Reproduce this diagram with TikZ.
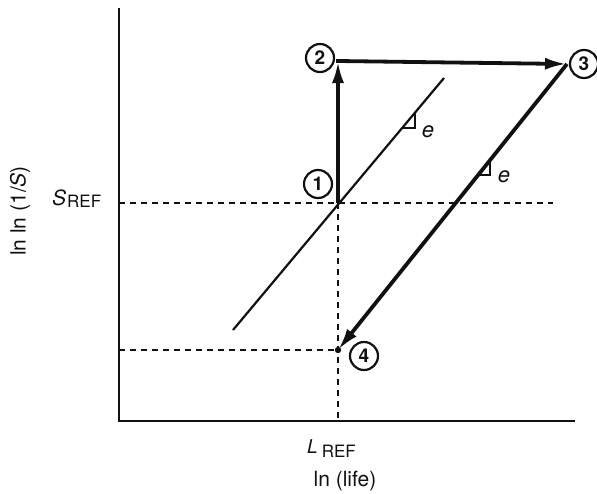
\documentclass[tikz,border=0pt]{standalone}
\usepackage{fontspec}
\setmainfont{TeX Gyre Heros}
\usepackage{tikz}
\usetikzlibrary{arrows.meta}
\definecolor{ink}{HTML}{111111}

\begin{document}
\begin{tikzpicture}[
  x=1pt, y=-1pt,
  font=\fontsize{21}{25}\selectfont,
  axis/.style={line width=2.6pt, ink},
  guide/.style={ink, line width=1.8pt, dash pattern=on 6pt off 5pt},
  trend/.style={ink, line width=2.2pt},
  move/.style={ink, line width=3.8pt, -{Latex[length=22pt, width=12pt]}},
  num/.style={draw=ink, circle, line width=2.2pt, minimum size=28pt, inner sep=0pt, text=ink, font=\fontsize{19}{19}\selectfont\bfseries},
  slopemark/.style={ink, line width=1.6pt},
  lbl/.style={text=ink, inner sep=0pt}
]
  \useasboundingbox (0,0) rectangle (597,493);
  % axes and reference values
  \coordinate (top) at (119,8);
  \coordinate (o) at (119,421);
  \coordinate (xend) at (575,421);
  \coordinate (sref) at (119,203);
  \coordinate (send) at (553,203);
  \coordinate (lref) at (338,421);
  \coordinate (s4) at (119,350);
  % the four states
  \coordinate (p1) at (338,203);
  \coordinate (p2) at (338,61);
  \coordinate (p3) at (567,64);
  \coordinate (p4) at (338,350);
  \coordinate (t0) at (233,330);
  \coordinate (t1) at (444,78);

  \draw[guide] (sref) -- (send);
  \draw[guide] (p1) -- (lref);
  \draw[guide] (s4) -- (p4);
  \draw[axis] (top) -- (o) -- (xend);

  \draw[trend] (t0) -- (t1);
  \draw[slopemark] (415,113) |- (402,128);

  \draw[move] (p1) -- (p2);
  \draw[move, line cap=rect] (p2) -- (p3);
  \draw[move] (p3) -- (p4);
  \draw[slopemark] (490,160) |- (478,175);
  \fill[ink] (p4) circle (3.2pt);

  \node[num] (n1) at (318,184) {1};
  \node[num] (n2) at (320,58) {2};
  \node[num] (n3) at (584,64) {3};
  \node[num] (n4) at (364,356) {4};

  \node[lbl, font=\fontsize{22}{22}\selectfont\itshape] (e1) at (428,132) {e};
  \node[lbl, font=\fontsize{22}{22}\selectfont\itshape] (e2) at (504,177) {e};

  \node[lbl, anchor=base west] (slabel) at (52,205) {\textit{S}\hspace{1pt}\raisebox{-2pt}{\fontsize{17}{17}\selectfont REF}};
  \node[lbl, anchor=base west] (llabel) at (307,453) {{\fontsize{19}{19}\selectfont\textit{L}}\hspace{4pt}\raisebox{-4pt}{\fontsize{17}{17}\selectfont REF}};
  \node[lbl, anchor=base] (xlabel) at (345,486) {ln (life)};
  \node[lbl, rotate=90] (ylabel) at (20,211) {ln ln (1/\textit{S})};
\end{tikzpicture}
\end{document}
